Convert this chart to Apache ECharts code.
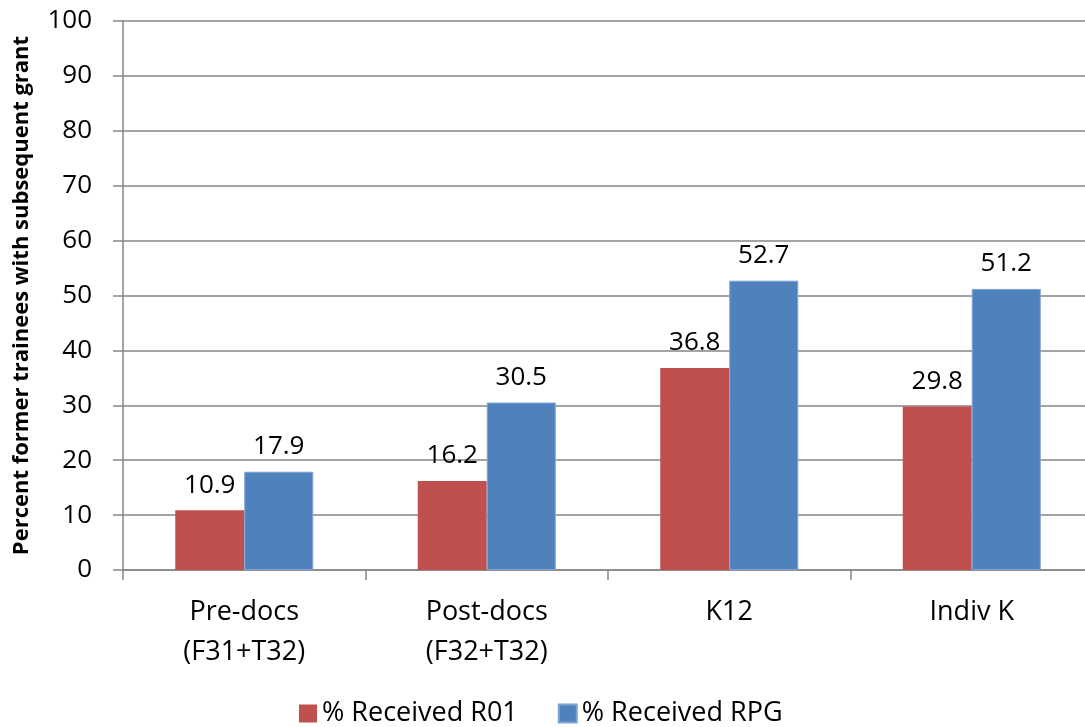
<!DOCTYPE html>
<html><head><meta charset="utf-8">
<script src="https://cdn.jsdelivr.net/npm/echarts@6/dist/echarts.min.js"></script>
<style>html,body{margin:0;padding:0;background:#fff;overflow:hidden}#c{width:1100px;height:727px}</style>
</head><body><div id="c"></div>
<script>
const categories = ['Pre-docs\n(F31+T32)', 'Post-docs\n(F32+T32)', 'K12', 'Indiv K'];
const r01 = [10.9, 16.2, 36.8, 29.8];
const rpg = [17.9, 30.5, 52.7, 51.2];
const seriesNames = ['% Received R01', '% Received RPG'];
const FONT = '"Open Sans", sans-serif';
const chart = echarts.init(document.getElementById('c'), null, {renderer: 'canvas'});
const lbl = {show: true, position: 'top', distance: 12, color: '#000', fontSize: 26, fontFamily: FONT, formatter: p => p.value.toFixed(1)};
chart.setOption({
  animation: false,
  textStyle: {fontFamily: FONT},
  grid: {left: 123, width: 970, top: 21, height: 549, containLabel: false},
  legend: {
    top: 695, left: 294, itemWidth: 18, itemHeight: 18, itemGap: 40, icon: 'rect',
    textStyle: {fontSize: 27, color: '#000', fontFamily: FONT}
  },
  xAxis: {
    type: 'category', data: categories,
    axisLine: {lineStyle: {color: '#868686', width: 1.5}},
    axisTick: {show: true, length: 10, lineStyle: {color: '#868686', width: 1.5}},
    axisLabel: {fontSize: 27, color: '#000', lineHeight: 40, margin: 22, fontFamily: FONT}
  },
  yAxis: {
    type: 'value', min: 0, max: 100, interval: 10,
    name: 'Percent former trainees with subsequent grant',
    nameLocation: 'middle', nameGap: 90, nameRotate: 90,
    nameTextStyle: {fontSize: 22, fontWeight: 'bold', color: '#000', fontFamily: FONT},
    axisLine: {show: true, lineStyle: {color: '#868686', width: 1.5}},
    axisTick: {show: true, length: 10, lineStyle: {color: '#868686', width: 1.5}},
    splitLine: {lineStyle: {color: '#868686', width: 1.5}},
    axisLabel: {fontSize: 26, color: '#000', margin: 31, fontFamily: FONT}
  },
  series: [
    {name: seriesNames[0], type: 'bar', data: r01, barWidth: 69, barGap: '0%',
     itemStyle: {color: '#C0504D'}, label: lbl},
    {name: seriesNames[1], type: 'bar', data: rpg, barWidth: 69,
     itemStyle: {color: '#4F81BD', borderColor: '#7DA3D6', borderWidth: 1}, label: lbl}
  ]
});
</script></body></html>
